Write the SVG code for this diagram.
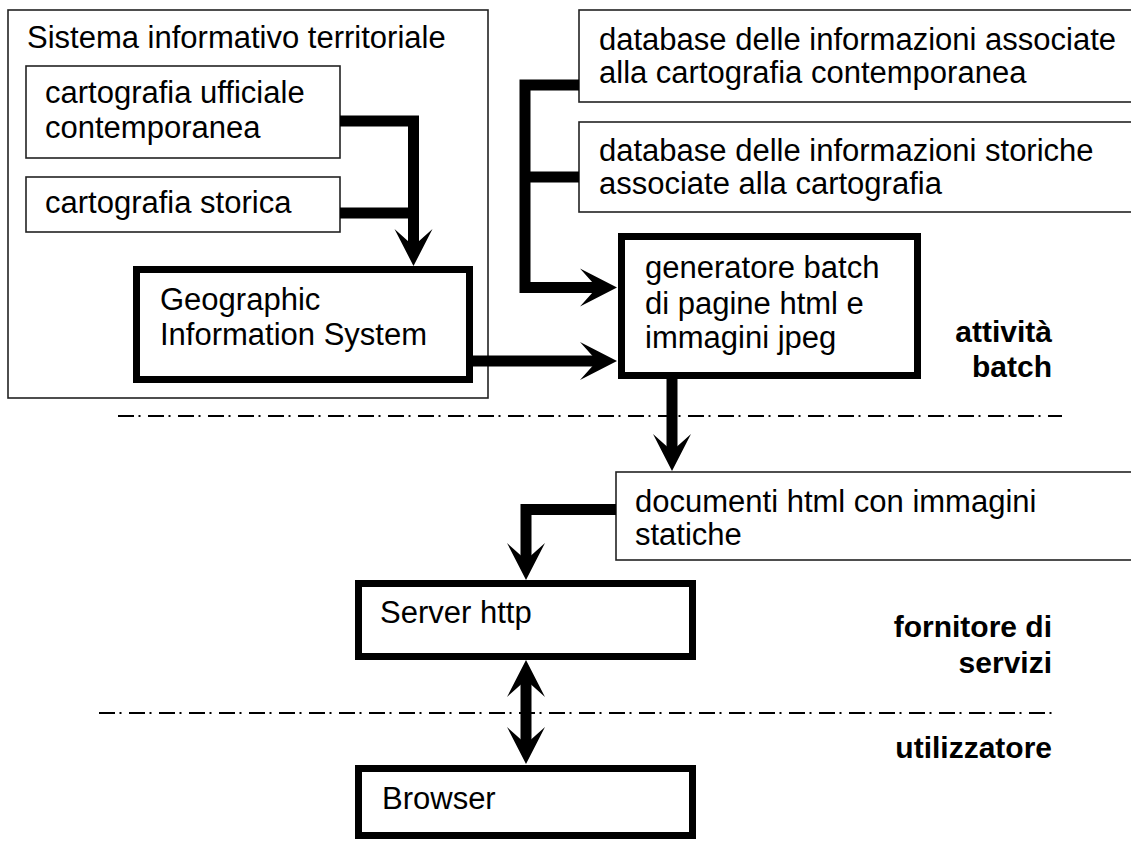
<svg xmlns="http://www.w3.org/2000/svg" width="1131" height="841" viewBox="0 0 1131 841">
<style>
  text { font-family: "Liberation Sans", Arial, sans-serif; font-size: 31px; fill: #000; }
  .lbl { font-size: 30px; font-weight: bold; text-anchor: end; }
  .thin { fill: #fff; stroke: #222; stroke-width: 1.6; }
  .thick { fill: #fff; stroke: #000; stroke-width: 7; }
  .conn { fill: none; stroke: #000; stroke-width: 11; stroke-linejoin: miter; }
  .sep { fill: none; stroke: #000; stroke-width: 2.2; stroke-dasharray: 16 4.5 2 7.5; }
</style>
<defs>
  <marker id="ah" markerUnits="userSpaceOnUse" viewBox="-20 -20 40 40" markerWidth="40" markerHeight="40" refX="0" refY="0" orient="auto-start-reverse" overflow="visible">
    <path d="M19,0 L-18,-19 L-1,0 L-18,19 Z" fill="#000"/>
  </marker>
</defs>
<rect width="1131" height="841" fill="#fff"/>

<g id="separators">
  <line class="sep" x1="118" y1="416" x2="1062" y2="416"/>
  <line class="sep" x1="99" y1="713" x2="1052" y2="713"/>
</g>

<g id="sit">
  <rect class="thin" x="8" y="10" width="480" height="388"/>
  <text x="27" y="48">Sistema informativo territoriale</text>
</g>
<g id="cart-uff">
  <rect class="thin" x="26" y="66" width="314" height="92"/>
  <text x="45" y="103">cartografia ufficiale</text>
  <text x="45" y="138">contemporanea</text>
</g>
<g id="cart-sto">
  <rect class="thin" x="26" y="177" width="314" height="55"/>
  <text x="45" y="213">cartografia storica</text>
</g>
<g id="gis">
  <rect class="thick" x="136.5" y="269.5" width="333" height="110"/>
  <text x="160" y="310">Geographic</text>
  <text x="160" y="345">Information System</text>
</g>
<g id="db1">
  <rect class="thin" x="579" y="10" width="570" height="92"/>
  <text x="599" y="50">database delle informazioni associate</text>
  <text x="599" y="83">alla cartografia contemporanea</text>
</g>
<g id="db2">
  <rect class="thin" x="579" y="122" width="570" height="90"/>
  <text x="599" y="161">database delle informazioni storiche</text>
  <text x="599" y="194">associate alla cartografia</text>
</g>
<g id="generatore">
  <rect class="thick" x="621.5" y="236.5" width="296" height="139"/>
  <text x="645" y="278">generatore batch</text>
  <text x="645" y="314">di pagine html e</text>
  <text x="645" y="348">immagini jpeg</text>
</g>
<g id="documenti">
  <rect class="thin" x="616" y="472" width="530" height="88"/>
  <text x="635" y="512">documenti html con immagini</text>
  <text x="635" y="545">statiche</text>
</g>
<g id="server">
  <rect class="thick" x="358.5" y="583.5" width="334" height="73"/>
  <text x="380" y="623">Server http</text>
</g>
<g id="browser">
  <rect class="thick" x="358.5" y="768.5" width="334" height="67"/>
  <text x="382" y="809">Browser</text>
</g>

<g id="labels">
  <text class="lbl" x="1052" y="342">attività</text>
  <text class="lbl" x="1052" y="377">batch</text>
  <text class="lbl" x="1052" y="637">fornitore di</text>
  <text class="lbl" x="1052" y="673">servizi</text>
  <text class="lbl" x="1052" y="758">utilizzatore</text>
</g>

<g id="connectors">
  <path class="conn" d="M340,121 H413.5 V247" marker-end="url(#ah)"/>
  <path class="conn" d="M340,213 H413.5"/>
  <path class="conn" d="M579,85 H525 V287.5 H598" marker-end="url(#ah)"/>
  <path class="conn" d="M579,177 H525"/>
  <path class="conn" d="M473,361 H598" marker-end="url(#ah)"/>
  <path class="conn" d="M672,379 V452" marker-end="url(#ah)"/>
  <path class="conn" d="M616,509.5 H526 V561" marker-end="url(#ah)"/>
  <path class="conn" d="M526,679 V745" marker-start="url(#ah)" marker-end="url(#ah)"/>
</g>
</svg>
